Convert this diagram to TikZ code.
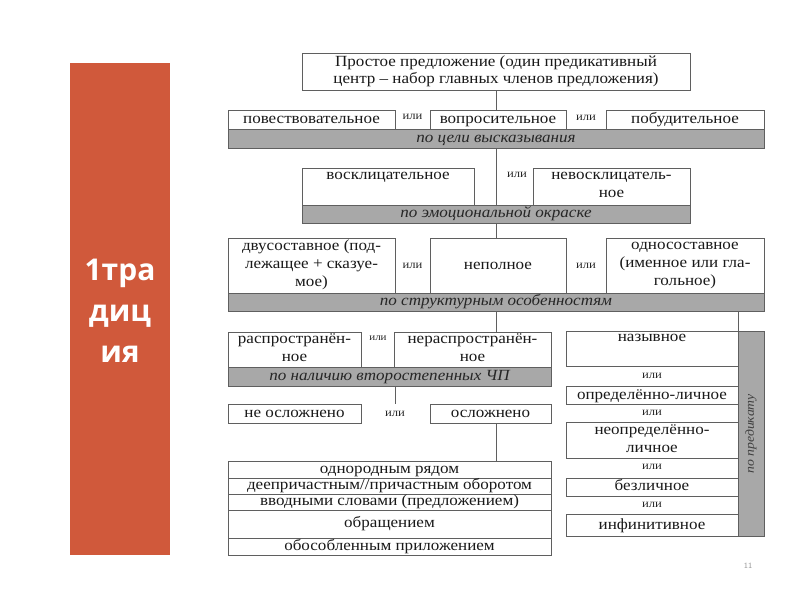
\documentclass[tikz,border=0pt]{standalone}
\usepackage{fontspec}
\setmainfont{Liberation Serif}[FakeStretch=1.1]
\newfontfamily\slidefont{Open Sans}
\usepackage{tikz}
\usepackage{xcolor}
\definecolor{slidered}{RGB}{208,89,59}
\definecolor{bargray}{RGB}{168,168,168}
\definecolor{linegray}{RGB}{95,95,95}
\newcommand{\cellstrut}{\rule[-4pt]{0pt}{15.5pt}}

\begin{document}
\begin{tikzpicture}[x=1pt, y=-1pt,
    every node/.style={inner sep=0pt, outer sep=0pt, align=center},
    cell/.style={draw=linegray, fill=white, text=black!90, font=\fontsize{15.5}{18}\selectfont,
        execute at begin node=\cellstrut, execute at end node=\cellstrut},
    bar/.style={draw=linegray, fill=bargray, text=black!85, font=\fontsize{15.5}{18}\selectfont\itshape,
        execute at begin node=\cellstrut},
    ili/.style={text=black!85, font=\fontsize{11.5}{12}\selectfont},
    link/.style={draw=linegray, line width=0.8pt}]
    \useasboundingbox (0,0) rectangle (800,600);

    % Side title
    \node[fill=slidered, minimum width=100pt, minimum height=492pt] (side) at (120,309) {};
    \node[text=white, font=\slidefont\bfseries\fontsize{30}{41}\selectfont] (sidetitle) at (120,311) {1тра\\диц\\ия};

    % Top
    \node[cell, minimum width=388pt, minimum height=37pt, font=\fontsize{15.5}{17}\selectfont] (top) at (496,71.5) {Простое предложение (один предикативный\\центр -- набор главных членов предложения)};

    % По цели высказывания
    \node[cell, minimum width=167pt, minimum height=19pt] (povest) at (311.5,120) {повествовательное};
    \node[cell, minimum width=136pt, minimum height=19pt] (vopr) at (498,120) {вопросительное};
    \node[cell, minimum width=158pt, minimum height=19pt] (pobud) at (685,120) {побудительное};
    \node[ili] (ili1) at (412.5,117) {или};
    \node[ili] (ili2) at (586,118) {или};
    \node[bar, minimum width=536pt, minimum height=19pt] (goal) at (496,139) {по цели высказывания};

    % По эмоциональной окраске
    \node[cell, minimum width=172pt, minimum height=37pt] (voskl) at (388,186.5) {восклицательное\\};
    \node[cell, minimum width=157pt, minimum height=37pt] (nevoskl) at (611.5,186.5) {невосклицатель-\\ное};
    \node[ili] (ili3) at (517,175) {или};
    \node[bar, minimum width=388pt, minimum height=18pt] (emo) at (496,214) {по эмоциональной окраске};

    % По структурным особенностям
    \node[cell, minimum width=167pt, minimum height=55pt] (dvus) at (311.5,265.5) {двусоставное (под-\\лежащее + сказуе-\\мое)};
    \node[cell, minimum width=136pt, minimum height=55pt] (nepoln) at (498,265.5) {неполное};
    \node[cell, minimum width=158pt, minimum height=55pt] (odnos) at (685,265.5) {односоставное\\(именное или гла-\\гольное)};
    \node[ili] (ili4) at (412.5,266) {или};
    \node[ili] (ili5) at (586,266) {или};
    \node[bar, minimum width=536pt, minimum height=18pt] (struct) at (496,302) {по структурным особенностям};

    % По наличию второстепенных ЧП
    \node[cell, minimum width=133pt, minimum height=35pt] (rasp) at (294.5,349.5) {распространён-\\ное};
    \node[cell, minimum width=157pt, minimum height=35pt] (nerasp) at (472.5,349.5) {нераспространён-\\ное};
    \node[ili, font=\fontsize{10}{11}\selectfont] (ili6) at (378,338) {или};
    \node[bar, minimum width=323pt, minimum height=19pt] (vtor) at (389.5,376.5) {по наличию второстепенных ЧП};

    % Осложнено
    \node[cell, minimum width=133pt, minimum height=19pt] (neosl) at (294.5,413.5) {не осложнено};
    \node[cell, minimum width=121pt, minimum height=19pt] (osl) at (490.5,413.5) {осложнено};
    \node[ili] (ili7) at (395,414) {или};

    \node[cell, minimum width=323pt, minimum height=17pt] (list1) at (389.5,469.5) {однородным рядом};
    \node[cell, minimum width=323pt, minimum height=16pt] (list2) at (389.5,486) {деепричастным//причастным оборотом};
    \node[cell, minimum width=323pt, minimum height=16pt] (list3) at (389.5,502) {вводными словами (предложением)};
    \node[cell, minimum width=323pt, minimum height=28pt] (list4) at (389.5,524) {обращением};
    \node[cell, minimum width=323pt, minimum height=17pt] (list5) at (389.5,546.5) {обособленным приложением};

    % По предикату
    \node[cell, minimum width=172pt, minimum height=35pt] (nazyv) at (652,349) {назывное\\};
    \node[ili] (ili8) at (652,376) {или};
    \node[cell, minimum width=172pt, minimum height=18pt] (opred) at (652,395.5) {определённо-личное};
    \node[ili] (ili9) at (652,413) {или};
    \node[cell, minimum width=172pt, minimum height=36pt] (neopred) at (652,440.5) {неопределённо-\\личное};
    \node[ili] (ili10) at (652,467) {или};
    \node[cell, minimum width=172pt, minimum height=18pt] (bezl) at (652,487) {безличное};
    \node[ili] (ili11) at (652,505) {или};
    \node[cell, minimum width=172pt, minimum height=22pt] (infin) at (652,525.5) {инфинитивное};
    \node[bar, minimum width=26pt, minimum height=205pt] (pred) at (751,434) {};
    \node[rotate=90, text=black!75, font=\fontsize{12.5}{14}\selectfont\itshape] (predtext) at (pred) {по предикату};

    % Links
    \draw[link] (top.south) -- (top.south |- vopr.north);
    \draw[link] (goal.south) -- (goal.south |- emo.north);
    \draw[link] (emo.south) -- (emo.south |- nepoln.north);
    \draw[link] (struct.south) -- (struct.south |- nerasp.north);
    \draw[link] (pred.north west |- struct.south) -- (pred.north west);
    \draw[link] (ili7 |- vtor.south) -- (ili7 |- osl.north);
    \draw[link] (osl.south -| top.south) -- (list1.north -| top.south);

    \node[text=black!40, font=\sffamily\fontsize{8}{9}\selectfont] (pagenum) at (748,566) {11};
\end{tikzpicture}
\end{document}
